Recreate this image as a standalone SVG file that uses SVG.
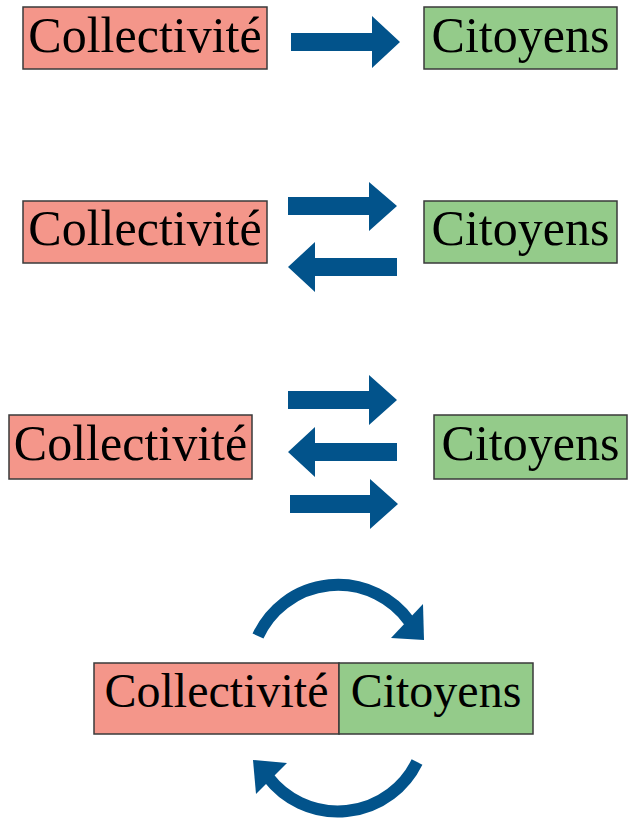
<svg xmlns="http://www.w3.org/2000/svg" width="632" height="819" viewBox="0 0 632 819">
<style>
.col{fill:#F4968A;stroke:#3a3a3a;stroke-width:1.5}
.cit{fill:#94CB8A;stroke:#3a3a3a;stroke-width:1.5}
.t{font-family:"Liberation Serif","Times New Roman",serif;font-size:50px;fill:#000;text-anchor:middle}
.t4{font-size:48px}
.ar{fill:#02538B}
.arc{fill:none;stroke:#02538B;stroke-width:12}
</style>
<rect width="632" height="819" fill="#fff"/>
<g id="s1-collectivite"><rect class="col" x="23" y="7" width="244" height="62"/><text class="t" x="145" y="52">Collectivité</text></g>
<g id="s1-citoyens"><rect class="cit" x="424" y="7" width="193" height="62"/><text class="t" x="520.5" y="52">Citoyens</text></g>
<g id="s2-collectivite"><rect class="col" x="23" y="201" width="244" height="62"/><text class="t" x="145" y="245">Collectivité</text></g>
<g id="s2-citoyens"><rect class="cit" x="424" y="201" width="193" height="62"/><text class="t" x="520.5" y="245">Citoyens</text></g>
<g id="s3-collectivite"><rect class="col" x="9" y="415" width="243" height="64"/><text class="t" x="130.5" y="460">Collectivité</text></g>
<g id="s3-citoyens"><rect class="cit" x="434" y="415" width="193" height="64"/><text class="t" x="530.5" y="460">Citoyens</text></g>
<g id="s4-collectivite"><rect class="col" x="94" y="663" width="245" height="71"/><text class="t t4" x="216.5" y="707">Collectivité</text></g>
<g id="s4-citoyens"><rect class="cit" x="339" y="663" width="194" height="71"/><text class="t t4" x="436" y="707">Citoyens</text></g>
<g id="connectors">
<polygon class="ar" points="291,33 372,33 372,16 400,42 372,68 372,51 291,51"/>
<polygon class="ar" points="288,197 369,197 369,182 397,206 369,231 369,215 288,215"/>
<polygon class="ar" points="397,258 315,258 315,242 288,267 315,292 315,276 397,276"/>
<polygon class="ar" points="288,391 369,391 369,375 397,400 369,425 369,409 288,409"/>
<polygon class="ar" points="397,443 315,443 315,427 288,452 315,477 315,461 397,461"/>
<polygon class="ar" points="290,495 370,495 370,479 398,504 370,529 370,513 290,513"/>
<path class="arc" d="M258,636 A88,88 0 0 1 409,621"/>
<polygon class="ar" points="423,604 391,638 424,640"/>
<path class="arc" d="M417,762 A88,88 0 0 1 268,777"/>
<polygon class="ar" points="253,760 287,763 256,794"/>
</g>
</svg>
